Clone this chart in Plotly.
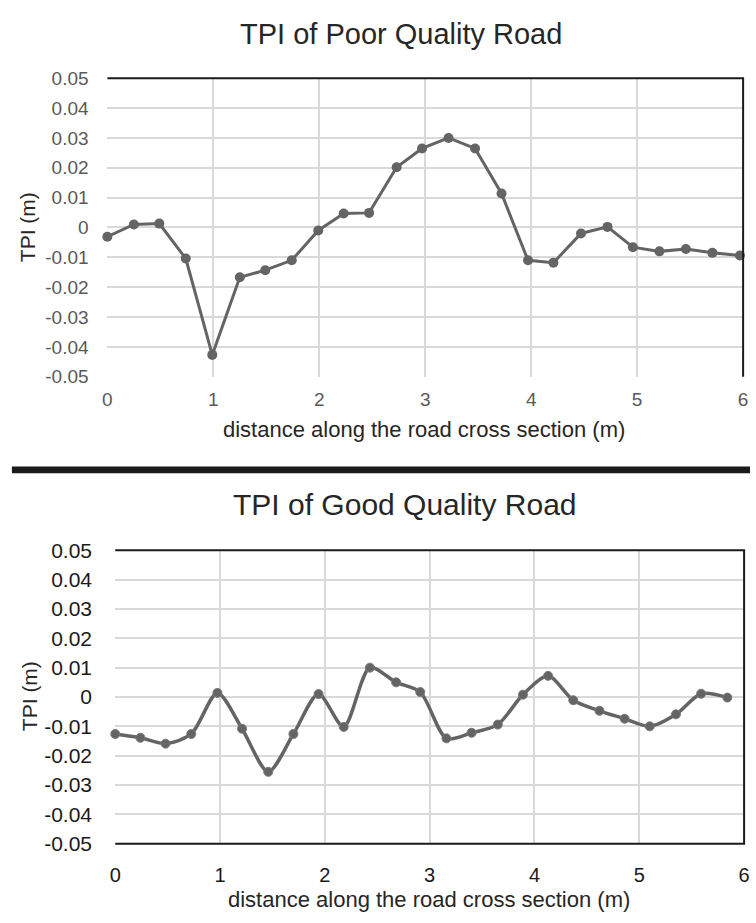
import plotly.graph_objects as go

# ---------------- data ----------------
poor_x = [0.0, 0.25, 0.49, 0.74, 0.99, 1.25, 1.49, 1.74, 1.99, 2.23, 2.47,
          2.73, 2.97, 3.22, 3.47, 3.72, 3.97, 4.21, 4.47, 4.72, 4.96, 5.21,
          5.46, 5.71, 5.97]
poor_tpi = [-0.0031, 0.001, 0.0013, -0.0104, -0.0427, -0.0167, -0.0143, -0.011,
            -0.001, 0.0047, 0.0049, 0.0202, 0.0265, 0.030, 0.0265, 0.0114,
            -0.011, -0.0118, -0.002, 0.0002, -0.0066, -0.008, -0.0072, -0.0085,
            -0.0094]

good_x = [0.0, 0.24, 0.48, 0.725, 0.975, 1.21, 1.46, 1.70, 1.94, 2.18, 2.43,
          2.68, 2.91, 3.16, 3.40, 3.65, 3.89, 4.13, 4.37, 4.62, 4.86, 5.10,
          5.35, 5.59, 5.84]
good_tpi = [-0.0126, -0.0139, -0.0159, -0.0126, 0.0014, -0.0108, -0.0255,
            -0.0126, 0.001, -0.0102, 0.010, 0.005, 0.0017, -0.0141, -0.0122,
            -0.0094, 0.0008, 0.0072, -0.0011, -0.0047, -0.0074, -0.010,
            -0.0059, 0.0011, -0.0002]

x_ticks = [0, 1, 2, 3, 4, 5, 6]
y_ticks = [-0.05, -0.04, -0.03, -0.02, -0.01, 0, 0.01, 0.02, 0.03, 0.04, 0.05]
y_ticktext = ["-0.05", "-0.04", "-0.03", "-0.02", "-0.01", "0",
              "0.01", "0.02", "0.03", "0.04", "0.05"]

W, H = 756, 923
LINE = "#646464"
GRID = "#d9d9d9"
FONT = "Liberation Sans, Arial, sans-serif"


def px_x(v):
    return v / W


def px_y(v):
    return 1 - v / H


# plot areas in pixels
top_l, top_r, top_t, top_b = 103, 749, 68, 374
bot_l, bot_r, bot_t, bot_b = 111, 750, 552, 853

fig = go.Figure()

fig.add_trace(go.Scatter(
    x=poor_x, y=poor_tpi, mode="lines+markers",
    line=dict(color=LINE, width=3),
    marker=dict(color=LINE, size=10, symbol="circle"),
    xaxis="x", yaxis="y", showlegend=False, cliponaxis=False,
))
fig.add_trace(go.Scatter(
    x=good_x, y=good_tpi, mode="lines+markers",
    line=dict(color=LINE, width=3.5, shape="spline", smoothing=0.8),
    marker=dict(color=LINE, size=9, symbol="circle",
                line=dict(color="#7a7a7a", width=1)),
    xaxis="x2", yaxis="y2", showlegend=False, cliponaxis=False,
))

common_x = dict(range=[0, 6], tickvals=x_ticks, showgrid=True, gridcolor=GRID,
                gridwidth=1.5, zeroline=False, showline=False, ticks="outside",
                tickcolor="rgba(0,0,0,0)", fixedrange=True)
common_y = dict(range=[-0.05, 0.05], tickvals=y_ticks, ticktext=y_ticktext,
                showgrid=True, gridcolor=GRID, gridwidth=1.5, zeroline=False,
                showline=False, ticks="outside", tickcolor="rgba(0,0,0,0)",
                fixedrange=True)

fig.update_layout(
    width=W, height=H,
    margin=dict(l=0, r=0, t=0, b=0),
    paper_bgcolor="white", plot_bgcolor="white",
    font=dict(family=FONT),
    xaxis=dict(common_x, domain=[px_x(top_l), px_x(top_r)], anchor="y",
               ticklen=6, tickfont=dict(size=19, color="#595959")),
    yaxis=dict(common_y, domain=[px_y(top_b), px_y(top_t)], anchor="x",
               ticklen=14, tickfont=dict(size=19, color="#595959")),
    xaxis2=dict(common_x, domain=[px_x(bot_l), px_x(bot_r)], anchor="y2",
                ticklen=13, tickfont=dict(size=20, color="#1a1a1a")),
    yaxis2=dict(common_y, domain=[px_y(bot_b), px_y(bot_t)], anchor="x2",
                ticklen=18, tickfont=dict(size=21, color="#1a1a1a")),
)

annotations = [
    dict(text="TPI of Poor Quality Road", x=px_x(401), y=px_y(23),
         font=dict(size=29, color="#262626")),
    dict(text="distance along the road cross section (m)", x=px_x(425), y=px_y(428),
         font=dict(size=22, color="#262626")),
    dict(text="TPI (m)", x=px_x(22), y=px_y(221), textangle=-90,
         font=dict(size=21, color="#262626")),
    dict(text="TPI of Good Quality Road", x=px_x(405), y=px_y(505),
         font=dict(size=30, color="#262626")),
    dict(text="distance along the road cross section (m)", x=px_x(430), y=px_y(910),
         font=dict(size=22, color="#262626")),
    dict(text="TPI (m)", x=px_x(24), y=px_y(702), textangle=-90,
         font=dict(size=21, color="#262626")),
]
for a in annotations:
    a.update(xref="paper", yref="paper", showarrow=False,
             xanchor="center", yanchor="middle")
fig.update_layout(annotations=annotations)

shapes = [
    # top chart frame lines (top and right)
    dict(type="line", x0=px_x(top_l), x1=px_x(top_r + 1), y0=px_y(top_t), y1=px_y(top_t),
         line=dict(color="#1a1a1a", width=2)),
    dict(type="line", x0=px_x(top_r), x1=px_x(top_r), y0=px_y(top_t), y1=px_y(top_b),
         line=dict(color="#1a1a1a", width=2)),
    # separator bar
    dict(type="rect", x0=px_x(6), x1=1, y0=px_y(473), y1=px_y(466),
         fillcolor="#1a1a1a", line=dict(width=0)),
    # bottom chart frame lines (top, right, bottom)
    dict(type="line", x0=px_x(bot_l), x1=px_x(bot_r + 1), y0=px_y(bot_t), y1=px_y(bot_t),
         line=dict(color="#1a1a1a", width=2)),
    dict(type="line", x0=px_x(bot_r), x1=px_x(bot_r), y0=px_y(bot_t), y1=px_y(bot_b),
         line=dict(color="#1a1a1a", width=2)),
    dict(type="line", x0=px_x(bot_l), x1=px_x(bot_r + 1), y0=px_y(bot_b), y1=px_y(bot_b),
         line=dict(color="#1a1a1a", width=2)),
]
for s in shapes:
    s.update(xref="paper", yref="paper", layer="above")
fig.update_layout(shapes=shapes)

fig.write_html("out.html")
